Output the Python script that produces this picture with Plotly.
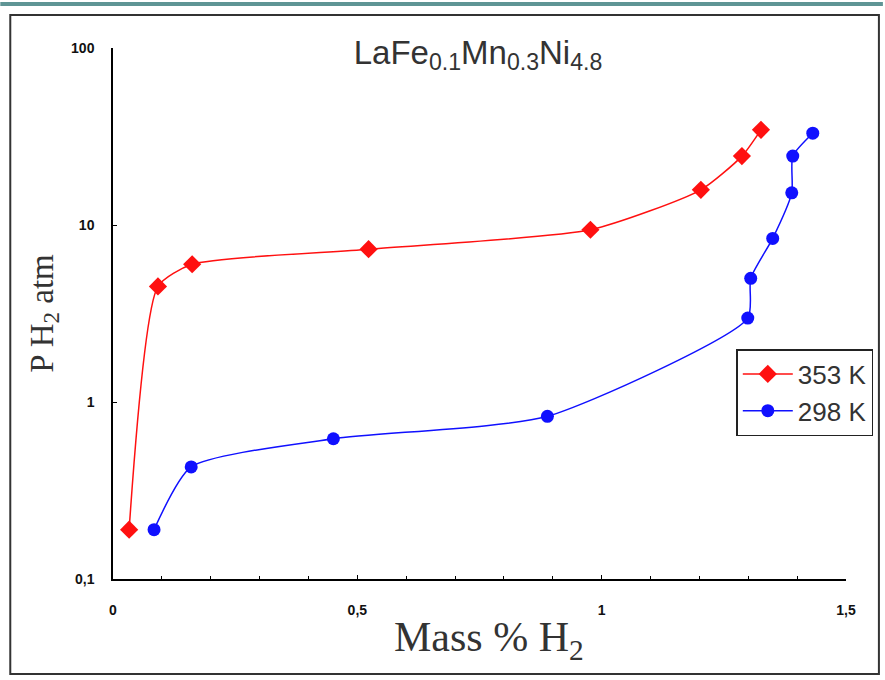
import plotly.graph_objects as go

# Data
x_353 = [0.033, 0.092, 0.162, 0.523, 0.977, 1.203, 1.287, 1.326]
p_353 = [0.19, 4.5, 6.0, 7.3, 9.4, 15.8, 24.5, 34.5]

x_298 = [0.084, 0.160, 0.451, 0.889, 1.299, 1.305, 1.350, 1.389, 1.391, 1.432]
p_298 = [0.19, 0.43, 0.62, 0.83, 2.98, 5.0, 8.4, 15.2, 24.5, 33.0]

x_tickvals = [0, 0.5, 1, 1.5]
x_ticktext = ["0", "0,5", "1", "1,5"]
y_tickvals = [0.1, 1, 10, 100]
y_ticktext = ["0,1", "1", "10", "100"]

W, H = 885, 680
L, R, T, B = 113, 848, 48, 579

def px(X):
    return (X - L) / (R - L)

def py(Y):
    return (B - Y) / (B - T)

fig = go.Figure()
fig.add_trace(go.Scatter(
    x=x_353, y=p_353, name="353 K", mode="lines+markers",
    line=dict(color="#ff1010", width=1.5, shape="spline", smoothing=0.6),
    marker=dict(symbol="diamond", size=14, color="#ff1010"),
))
fig.add_trace(go.Scatter(
    x=x_298, y=p_298, name="298 K", mode="lines+markers",
    line=dict(color="#1010ff", width=1.5, shape="spline", smoothing=0.6),
    marker=dict(symbol="circle", size=13, color="#1010ff"),
))

tickfont = dict(family="Arial, Liberation Sans", size=14, color="#111111", weight="bold")
serif = "Liberation Serif, Times New Roman"

fig.update_layout(
    width=W, height=H,
    margin=dict(l=L, r=W - R, t=T, b=H - B, pad=0),
    paper_bgcolor="white", plot_bgcolor="white",
    title=dict(
        text="LaFe<sub>0.1</sub>Mn<sub>0.3</sub>Ni<sub>4.8</sub>",
        x=478 / W, xanchor="center", y=1 - 52 / H, yanchor="middle",
        yref="container", xref="container",
        font=dict(family="Arial, Liberation Sans", size=33, color="#333333"),
    ),
    showlegend=True,
    legend=dict(
        x=px(738), y=py(349), xanchor="left", yanchor="top",
        bordercolor="#222222", borderwidth=1.5, bgcolor="white",
        font=dict(family="Arial, Liberation Sans", size=26, color="#333333"),
        itemwidth=50,
    ),
    xaxis=dict(
        range=[0, 1.5], showgrid=False, zeroline=False,
        showline=True, linecolor="black", linewidth=1.5,
        tickvals=x_tickvals, ticktext=x_ticktext,
        ticks="inside", ticklen=4, tickcolor="black",
        minor=dict(dtick=0.1, ticks="inside", ticklen=3, tickcolor="black"),
        tickfont=tickfont,
        ticklabelstandoff=17,
    ),
    yaxis=dict(
        type="log", range=[-1, 2], showgrid=False, zeroline=False,
        showline=True, linecolor="black", linewidth=1.5,
        tickvals=y_tickvals, ticktext=y_ticktext,
        ticks="inside", ticklen=4, tickcolor="black",
        tickfont=tickfont,
        ticklabelstandoff=14,
        title=dict(text="P H<sub>2</sub> atm", standoff=8,
                   font=dict(family=serif, size=33, color="#333333")),
    ),
    annotations=[
        dict(text="Mass % H<sub>2</sub>", xref="paper", yref="paper",
             x=px(490), y=py(640), xanchor="center", yanchor="middle",
             showarrow=False, font=dict(family=serif, size=42, color="#333333")),
    ],
    shapes=[
        dict(type="line", xref="paper", yref="paper",
             x0=px(0), x1=px(W), y0=py(4), y1=py(4),
             line=dict(color="#5f9595", width=4)),
        dict(type="rect", xref="paper", yref="paper",
             x0=px(10), x1=px(881), y0=py(674), y1=py(15),
             line=dict(color="#333333", width=2), fillcolor="rgba(0,0,0,0)"),
    ],
)

fig.write_html("out.html", config={"displayModeBar": False},
               post_script="document.body.style.margin='0';document.body.style.overflow='hidden';")
